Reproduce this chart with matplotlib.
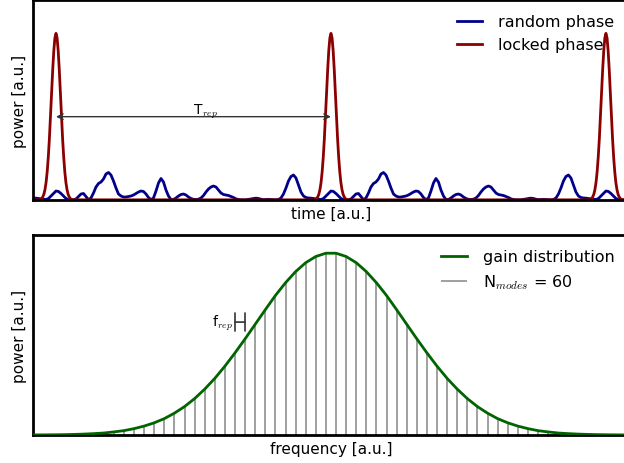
import numpy as np
import matplotlib
matplotlib.use("Agg")
import matplotlib.pyplot as plt

plt.rcParams["font.family"] = "DejaVu Sans"
plt.rcParams["mathtext.fontset"] = "cm"

# random-phase trace over one repetition period T (one sample every T/110),
# power normalised to the locked-phase peak; the trace repeats every T
random_phase = [
    0.054, 0.051, 0.039, 0.024, 0.009, 0.002, 0.000, 0.001, 0.006, 0.021,
    0.036, 0.039, 0.021, 0.002, 0.012, 0.042, 0.078, 0.099, 0.108, 0.126,
    0.156, 0.165, 0.150, 0.114, 0.072, 0.036, 0.024, 0.018, 0.018, 0.021,
    0.024, 0.030, 0.039, 0.048, 0.054, 0.051, 0.036, 0.015, 0.002, 0.012,
    0.054, 0.102, 0.129, 0.108, 0.060, 0.024, 0.003, 0.003, 0.012, 0.024,
    0.033, 0.036, 0.030, 0.018, 0.009, 0.004, 0.003, 0.005, 0.012, 0.027,
    0.048, 0.066, 0.078, 0.084, 0.078, 0.060, 0.042, 0.033, 0.030, 0.027,
    0.021, 0.015, 0.007, 0.003, 0.001, 0.001, 0.001, 0.004, 0.006, 0.009,
    0.011, 0.009, 0.005, 0.002, 0.003, 0.004, 0.003, 0.002, 0.001, 0.003,
    0.012, 0.036, 0.072, 0.114, 0.141, 0.150, 0.132, 0.090, 0.048, 0.024,
    0.015, 0.012, 0.011, 0.009, 0.007, 0.005, 0.003, 0.009, 0.024, 0.039,
]

# locked-phase pulse around its centre, one sample every 0.004 T
locked_pulse = [
    0.001, 0.002, 0.004, 0.009, 0.019, 0.035, 0.063, 0.106, 0.170, 0.258,
    0.369, 0.500, 0.642, 0.780, 0.895, 0.973, 1.000, 0.973, 0.895, 0.780,
    0.642, 0.500, 0.369, 0.258, 0.170, 0.106, 0.063, 0.035, 0.019, 0.009,
    0.004, 0.002, 0.001,
]
pulse_step = 0.004
pulse_centers = [-1, 0, 1, 2, 3]

# gain of the 60 longitudinal modes (normalised)
mode_gain = [
    0.0005, 0.0008, 0.0013, 0.0020, 0.0032, 0.0050, 0.0076, 0.011, 0.017, 0.024,
    0.035, 0.049, 0.067, 0.090, 0.120, 0.156, 0.200, 0.252, 0.311, 0.378,
    0.451, 0.528, 0.608, 0.688, 0.766, 0.836, 0.897, 0.946, 0.980, 0.998,
    0.998, 0.980, 0.946, 0.897, 0.836, 0.766, 0.688, 0.608, 0.528, 0.451,
    0.378, 0.311, 0.252, 0.200, 0.156, 0.120, 0.090, 0.067, 0.049, 0.035,
    0.024, 0.017, 0.011, 0.0076, 0.0050, 0.0032, 0.0020, 0.0013, 0.0008, 0.0005,
]
n_modes = len(mode_gain)


def style_axes(ax):
    ax.set_xticks([])
    ax.set_yticks([])
    for spine in ax.spines.values():
        spine.set_linewidth(2)


def draw_time(ax):
    period = np.arange(len(random_phase)) / len(random_phase)
    t_random = np.concatenate([period + c for c in pulse_centers])
    p_random = np.tile(random_phase, len(pulse_centers))
    half = len(locked_pulse) // 2
    dt = (np.arange(len(locked_pulse)) - half) * pulse_step
    t_locked = np.concatenate([dt + c for c in pulse_centers])
    p_locked = np.tile(locked_pulse, len(pulse_centers))

    ax.plot(t_random, p_random, color="#00008b", lw=2, label="random phase")
    ax.plot(t_locked, p_locked, color="#8b0000", lw=2, label="locked phase")
    ax.set_xlim(-0.0836, 2.0836)
    ax.set_ylim(0, 1.2 * max(locked_pulse))

    ax.annotate("", xy=(0, 0.5), xytext=(1, 0.5),
                arrowprops=dict(arrowstyle="<->", color="#333333", lw=1,
                                shrinkA=0, shrinkB=0))
    ax.text(0.5, 0.52, r"T$_{rep}$", fontsize=10)

    ax.set_xlabel("time [a.u.]", fontsize=11)
    ax.set_ylabel("power [a.u.]", fontsize=11)
    ax.legend(loc="upper right", frameon=False, fontsize=11.5,
              handlelength=1.6, handletextpad=1.0)
    style_axes(ax)


def draw_freq(ax):
    modes = np.arange(n_modes)
    ax.plot(modes, mode_gain, color="#006400", lw=2, zorder=3,
            label="gain distribution")
    ax.vlines(modes, 0, mode_gain, color="#999999", lw=1.3,
              label=r"N$_{modes}$ = %d" % n_modes)
    ax.set_xlim(0, n_modes - 1)
    ax.set_ylim(0, 1.1 * max(mode_gain))

    ax.annotate("", xy=(20, 0.62), xytext=(21, 0.62),
                arrowprops=dict(arrowstyle="|-|, widthA=0.65, widthB=0.65",
                                color="#333333", lw=1.2,
                                shrinkA=0, shrinkB=0))
    ax.text(19.8, 0.62, r"f$_{rep}$", fontsize=10, ha="right", va="center")

    ax.set_xlabel("frequency [a.u.]", fontsize=11)
    ax.set_ylabel("power [a.u.]", fontsize=11)
    ax.legend(loc="upper right", frameon=False, fontsize=11.5,
              handlelength=1.6, handletextpad=1.0)
    style_axes(ax)


def main():
    fig = plt.figure(figsize=(6.24, 4.64), dpi=100)
    ax_time = fig.add_axes([0.0529, 0.5668, 0.955, 0.431])
    ax_freq = fig.add_axes([0.0529, 0.0603, 0.955, 0.431])
    draw_time(ax_time)
    draw_freq(ax_freq)
    fig.savefig("out.png", dpi=100)
    plt.close(fig)


if __name__ == "__main__":
    main()
